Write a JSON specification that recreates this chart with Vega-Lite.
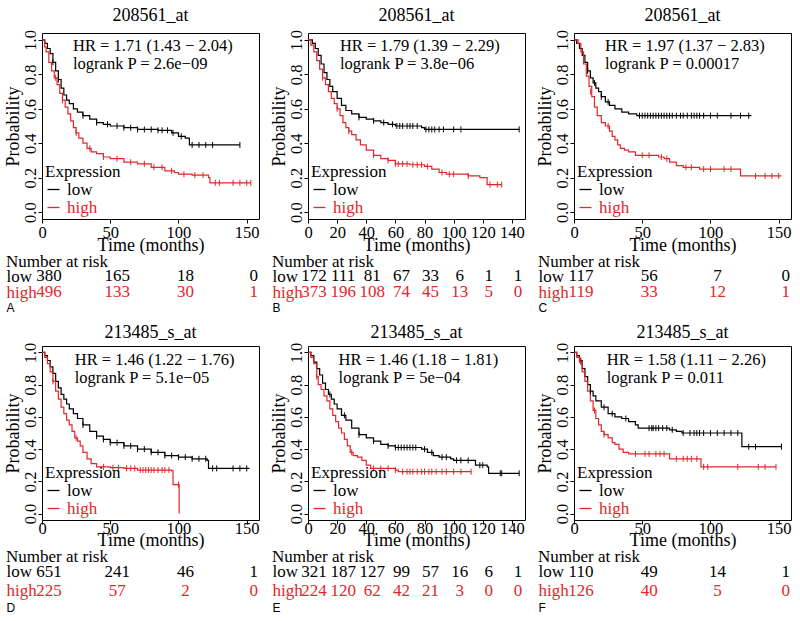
{
"$schema": "https://vega.github.io/schema/vega-lite/v6.json",
"padding": {"left": 3, "top": 6, "right": 2, "bottom": 2},
"background": "white",
"config": {
  "font": "Liberation Serif",
  "view": {"stroke": "black", "strokeWidth": 1},
  "concat": {"spacing": 10},
  "title": {"font": "Liberation Serif", "fontSize": 18, "fontWeight": "normal", "color": "black", "offset": 8},
  "axis": {"labelFont": "Liberation Serif", "labelFontSize": 16.5, "titleFont": "Liberation Serif", "titleFontSize": 18, "titleFontWeight": "normal", "labelColor": "black", "titleColor": "black", "grid": false, "domain": false, "tickColor": "black", "tickSize": 4, "labelPadding": 1, "titlePadding": 0, "labelOverlap": false, "labelFlush": false},
  "legend": {"orient": "bottom-left", "offset": 3, "symbolType": "stroke", "symbolSize": 144, "symbolStrokeWidth": 1.3, "titleFont": "Liberation Serif", "titleFontSize": 17, "titleFontWeight": "normal", "titleColor": "black", "labelFont": "Liberation Serif", "labelFontSize": 17, "labelColor": "black", "rowPadding": 0, "titlePadding": 0, "padding": 0, "labelOffset": 5}
},
"datasets": {
  "curves": [
    {"p":"A","g":"low","t":0,"s":1},{"p":"A","g":"low","t":2,"s":0.98},{"p":"A","g":"low","t":4,"s":0.95},{"p":"A","g":"low","t":6,"s":0.92},{"p":"A","g":"low","t":8,"s":0.87},{"p":"A","g":"low","t":10,"s":0.82},{"p":"A","g":"low","t":12,"s":0.77},{"p":"A","g":"low","t":14,"s":0.72},{"p":"A","g":"low","t":16,"s":0.68},{"p":"A","g":"low","t":18,"s":0.65},{"p":"A","g":"low","t":20,"s":0.63},{"p":"A","g":"low","t":23,"s":0.6},{"p":"A","g":"low","t":26,"s":0.58},{"p":"A","g":"low","t":30,"s":0.56},{"p":"A","g":"low","t":35,"s":0.54},{"p":"A","g":"low","t":40,"s":0.52},{"p":"A","g":"low","t":45,"s":0.51},{"p":"A","g":"low","t":50,"s":0.5},{"p":"A","g":"low","t":60,"s":0.49},{"p":"A","g":"low","t":70,"s":0.48},{"p":"A","g":"low","t":85,"s":0.475},{"p":"A","g":"low","t":95,"s":0.46},{"p":"A","g":"low","t":100,"s":0.44},{"p":"A","g":"low","t":105,"s":0.43},{"p":"A","g":"low","t":108,"s":0.39},{"p":"A","g":"low","t":145,"s":0.39},
    {"p":"A","g":"high","t":0,"s":1},{"p":"A","g":"high","t":2,"s":0.96},{"p":"A","g":"high","t":3,"s":0.93},{"p":"A","g":"high","t":5,"s":0.87},{"p":"A","g":"high","t":7,"s":0.82},{"p":"A","g":"high","t":9,"s":0.78},{"p":"A","g":"high","t":11,"s":0.74},{"p":"A","g":"high","t":13,"s":0.69},{"p":"A","g":"high","t":15,"s":0.65},{"p":"A","g":"high","t":17,"s":0.61},{"p":"A","g":"high","t":19,"s":0.57},{"p":"A","g":"high","t":21,"s":0.53},{"p":"A","g":"high","t":23,"s":0.49},{"p":"A","g":"high","t":25,"s":0.46},{"p":"A","g":"high","t":27,"s":0.43},{"p":"A","g":"high","t":30,"s":0.4},{"p":"A","g":"high","t":33,"s":0.37},{"p":"A","g":"high","t":36,"s":0.35},{"p":"A","g":"high","t":40,"s":0.34},{"p":"A","g":"high","t":45,"s":0.32},{"p":"A","g":"high","t":50,"s":0.31},{"p":"A","g":"high","t":60,"s":0.29},{"p":"A","g":"high","t":70,"s":0.28},{"p":"A","g":"high","t":80,"s":0.26},{"p":"A","g":"high","t":90,"s":0.24},{"p":"A","g":"high","t":97,"s":0.23},{"p":"A","g":"high","t":100,"s":0.22},{"p":"A","g":"high","t":110,"s":0.215},{"p":"A","g":"high","t":122,"s":0.2},{"p":"A","g":"high","t":123,"s":0.17},{"p":"A","g":"high","t":153,"s":0.17},

    {"p":"B","g":"low","t":0,"s":1},{"p":"B","g":"low","t":3,"s":0.98},{"p":"B","g":"low","t":5,"s":0.95},{"p":"B","g":"low","t":7,"s":0.91},{"p":"B","g":"low","t":9,"s":0.86},{"p":"B","g":"low","t":11,"s":0.81},{"p":"B","g":"low","t":13,"s":0.77},{"p":"B","g":"low","t":15,"s":0.73},{"p":"B","g":"low","t":17,"s":0.7},{"p":"B","g":"low","t":20,"s":0.66},{"p":"B","g":"low","t":23,"s":0.62},{"p":"B","g":"low","t":26,"s":0.59},{"p":"B","g":"low","t":30,"s":0.57},{"p":"B","g":"low","t":35,"s":0.55},{"p":"B","g":"low","t":40,"s":0.54},{"p":"B","g":"low","t":45,"s":0.53},{"p":"B","g":"low","t":50,"s":0.52},{"p":"B","g":"low","t":55,"s":0.51},{"p":"B","g":"low","t":60,"s":0.5},{"p":"B","g":"low","t":78,"s":0.49},{"p":"B","g":"low","t":80,"s":0.48},{"p":"B","g":"low","t":145,"s":0.48},
    {"p":"B","g":"high","t":0,"s":1},{"p":"B","g":"high","t":2,"s":0.97},{"p":"B","g":"high","t":4,"s":0.93},{"p":"B","g":"high","t":6,"s":0.88},{"p":"B","g":"high","t":8,"s":0.83},{"p":"B","g":"high","t":10,"s":0.78},{"p":"B","g":"high","t":12,"s":0.74},{"p":"B","g":"high","t":14,"s":0.7},{"p":"B","g":"high","t":16,"s":0.66},{"p":"B","g":"high","t":18,"s":0.63},{"p":"B","g":"high","t":20,"s":0.6},{"p":"B","g":"high","t":22,"s":0.56},{"p":"B","g":"high","t":24,"s":0.52},{"p":"B","g":"high","t":26,"s":0.49},{"p":"B","g":"high","t":28,"s":0.47},{"p":"B","g":"high","t":30,"s":0.45},{"p":"B","g":"high","t":33,"s":0.42},{"p":"B","g":"high","t":36,"s":0.39},{"p":"B","g":"high","t":40,"s":0.36},{"p":"B","g":"high","t":45,"s":0.33},{"p":"B","g":"high","t":50,"s":0.31},{"p":"B","g":"high","t":55,"s":0.3},{"p":"B","g":"high","t":60,"s":0.28},{"p":"B","g":"high","t":70,"s":0.275},{"p":"B","g":"high","t":80,"s":0.265},{"p":"B","g":"high","t":85,"s":0.25},{"p":"B","g":"high","t":90,"s":0.23},{"p":"B","g":"high","t":95,"s":0.22},{"p":"B","g":"high","t":110,"s":0.21},{"p":"B","g":"high","t":118,"s":0.2},{"p":"B","g":"high","t":123,"s":0.16},{"p":"B","g":"high","t":133,"s":0.16},

    {"p":"C","g":"low","t":0,"s":1},{"p":"C","g":"low","t":2,"s":0.98},{"p":"C","g":"low","t":4,"s":0.95},{"p":"C","g":"low","t":6,"s":0.91},{"p":"C","g":"low","t":8,"s":0.87},{"p":"C","g":"low","t":10,"s":0.82},{"p":"C","g":"low","t":12,"s":0.78},{"p":"C","g":"low","t":14,"s":0.75},{"p":"C","g":"low","t":16,"s":0.72},{"p":"C","g":"low","t":18,"s":0.7},{"p":"C","g":"low","t":20,"s":0.67},{"p":"C","g":"low","t":23,"s":0.64},{"p":"C","g":"low","t":26,"s":0.62},{"p":"C","g":"low","t":30,"s":0.6},{"p":"C","g":"low","t":35,"s":0.58},{"p":"C","g":"low","t":40,"s":0.57},{"p":"C","g":"low","t":46,"s":0.56},{"p":"C","g":"low","t":130,"s":0.56},
    {"p":"C","g":"high","t":0,"s":1},{"p":"C","g":"high","t":3,"s":0.98},{"p":"C","g":"high","t":5,"s":0.93},{"p":"C","g":"high","t":7,"s":0.86},{"p":"C","g":"high","t":9,"s":0.79},{"p":"C","g":"high","t":11,"s":0.73},{"p":"C","g":"high","t":13,"s":0.67},{"p":"C","g":"high","t":15,"s":0.61},{"p":"C","g":"high","t":17,"s":0.56},{"p":"C","g":"high","t":20,"s":0.52},{"p":"C","g":"high","t":23,"s":0.5},{"p":"C","g":"high","t":26,"s":0.47},{"p":"C","g":"high","t":28,"s":0.44},{"p":"C","g":"high","t":30,"s":0.42},{"p":"C","g":"high","t":32,"s":0.39},{"p":"C","g":"high","t":34,"s":0.37},{"p":"C","g":"high","t":37,"s":0.36},{"p":"C","g":"high","t":40,"s":0.35},{"p":"C","g":"high","t":45,"s":0.33},{"p":"C","g":"high","t":58,"s":0.33},{"p":"C","g":"high","t":62,"s":0.32},{"p":"C","g":"high","t":66,"s":0.31},{"p":"C","g":"high","t":70,"s":0.29},{"p":"C","g":"high","t":75,"s":0.27},{"p":"C","g":"high","t":80,"s":0.26},{"p":"C","g":"high","t":92,"s":0.25},{"p":"C","g":"high","t":120,"s":0.25},{"p":"C","g":"high","t":122,"s":0.21},{"p":"C","g":"high","t":152,"s":0.21},

    {"p":"D","g":"low","t":0,"s":1},{"p":"D","g":"low","t":2,"s":0.98},{"p":"D","g":"low","t":4,"s":0.95},{"p":"D","g":"low","t":6,"s":0.91},{"p":"D","g":"low","t":8,"s":0.87},{"p":"D","g":"low","t":10,"s":0.82},{"p":"D","g":"low","t":12,"s":0.78},{"p":"D","g":"low","t":14,"s":0.74},{"p":"D","g":"low","t":16,"s":0.71},{"p":"D","g":"low","t":18,"s":0.68},{"p":"D","g":"low","t":20,"s":0.65},{"p":"D","g":"low","t":23,"s":0.62},{"p":"D","g":"low","t":26,"s":0.59},{"p":"D","g":"low","t":30,"s":0.55},{"p":"D","g":"low","t":35,"s":0.51},{"p":"D","g":"low","t":40,"s":0.48},{"p":"D","g":"low","t":45,"s":0.46},{"p":"D","g":"low","t":50,"s":0.44},{"p":"D","g":"low","t":60,"s":0.42},{"p":"D","g":"low","t":70,"s":0.4},{"p":"D","g":"low","t":80,"s":0.38},{"p":"D","g":"low","t":90,"s":0.36},{"p":"D","g":"low","t":100,"s":0.35},{"p":"D","g":"low","t":110,"s":0.34},{"p":"D","g":"low","t":121,"s":0.33},{"p":"D","g":"low","t":122,"s":0.28},{"p":"D","g":"low","t":152,"s":0.28},
    {"p":"D","g":"high","t":0,"s":1},{"p":"D","g":"high","t":2,"s":0.97},{"p":"D","g":"high","t":4,"s":0.93},{"p":"D","g":"high","t":6,"s":0.88},{"p":"D","g":"high","t":8,"s":0.82},{"p":"D","g":"high","t":10,"s":0.76},{"p":"D","g":"high","t":12,"s":0.71},{"p":"D","g":"high","t":14,"s":0.66},{"p":"D","g":"high","t":16,"s":0.62},{"p":"D","g":"high","t":18,"s":0.58},{"p":"D","g":"high","t":20,"s":0.55},{"p":"D","g":"high","t":22,"s":0.51},{"p":"D","g":"high","t":24,"s":0.47},{"p":"D","g":"high","t":26,"s":0.45},{"p":"D","g":"high","t":28,"s":0.42},{"p":"D","g":"high","t":30,"s":0.38},{"p":"D","g":"high","t":33,"s":0.34},{"p":"D","g":"high","t":36,"s":0.31},{"p":"D","g":"high","t":40,"s":0.29},{"p":"D","g":"high","t":50,"s":0.285},{"p":"D","g":"high","t":60,"s":0.28},{"p":"D","g":"high","t":70,"s":0.27},{"p":"D","g":"high","t":95,"s":0.265},{"p":"D","g":"high","t":96,"s":0.18},{"p":"D","g":"high","t":100,"s":0.18},{"p":"D","g":"high","t":100.5,"s":0},

    {"p":"E","g":"low","t":0,"s":1},{"p":"E","g":"low","t":2,"s":0.98},{"p":"E","g":"low","t":4,"s":0.94},{"p":"E","g":"low","t":6,"s":0.9},{"p":"E","g":"low","t":8,"s":0.86},{"p":"E","g":"low","t":10,"s":0.81},{"p":"E","g":"low","t":12,"s":0.77},{"p":"E","g":"low","t":14,"s":0.74},{"p":"E","g":"low","t":16,"s":0.71},{"p":"E","g":"low","t":18,"s":0.68},{"p":"E","g":"low","t":20,"s":0.65},{"p":"E","g":"low","t":23,"s":0.61},{"p":"E","g":"low","t":26,"s":0.58},{"p":"E","g":"low","t":30,"s":0.53},{"p":"E","g":"low","t":35,"s":0.49},{"p":"E","g":"low","t":40,"s":0.47},{"p":"E","g":"low","t":45,"s":0.45},{"p":"E","g":"low","t":50,"s":0.43},{"p":"E","g":"low","t":55,"s":0.42},{"p":"E","g":"low","t":60,"s":0.41},{"p":"E","g":"low","t":78,"s":0.4},{"p":"E","g":"low","t":82,"s":0.38},{"p":"E","g":"low","t":86,"s":0.36},{"p":"E","g":"low","t":90,"s":0.35},{"p":"E","g":"low","t":98,"s":0.34},{"p":"E","g":"low","t":100,"s":0.33},{"p":"E","g":"low","t":112,"s":0.33},{"p":"E","g":"low","t":115,"s":0.3},{"p":"E","g":"low","t":123,"s":0.29},{"p":"E","g":"low","t":124,"s":0.25},{"p":"E","g":"low","t":145,"s":0.25},
    {"p":"E","g":"high","t":0,"s":1},{"p":"E","g":"high","t":2,"s":0.97},{"p":"E","g":"high","t":4,"s":0.93},{"p":"E","g":"high","t":6,"s":0.85},{"p":"E","g":"high","t":7,"s":0.8},{"p":"E","g":"high","t":9,"s":0.77},{"p":"E","g":"high","t":11,"s":0.73},{"p":"E","g":"high","t":13,"s":0.7},{"p":"E","g":"high","t":15,"s":0.65},{"p":"E","g":"high","t":17,"s":0.61},{"p":"E","g":"high","t":19,"s":0.57},{"p":"E","g":"high","t":21,"s":0.53},{"p":"E","g":"high","t":23,"s":0.5},{"p":"E","g":"high","t":25,"s":0.46},{"p":"E","g":"high","t":27,"s":0.42},{"p":"E","g":"high","t":29,"s":0.38},{"p":"E","g":"high","t":31,"s":0.36},{"p":"E","g":"high","t":34,"s":0.35},{"p":"E","g":"high","t":37,"s":0.33},{"p":"E","g":"high","t":40,"s":0.3},{"p":"E","g":"high","t":43,"s":0.28},{"p":"E","g":"high","t":60,"s":0.27},{"p":"E","g":"high","t":62,"s":0.26},{"p":"E","g":"high","t":112,"s":0.26},

    {"p":"F","g":"low","t":0,"s":1},{"p":"F","g":"low","t":2,"s":0.98},{"p":"F","g":"low","t":4,"s":0.95},{"p":"F","g":"low","t":6,"s":0.9},{"p":"F","g":"low","t":8,"s":0.85},{"p":"F","g":"low","t":10,"s":0.8},{"p":"F","g":"low","t":12,"s":0.76},{"p":"F","g":"low","t":14,"s":0.73},{"p":"F","g":"low","t":16,"s":0.7},{"p":"F","g":"low","t":20,"s":0.66},{"p":"F","g":"low","t":25,"s":0.62},{"p":"F","g":"low","t":30,"s":0.6},{"p":"F","g":"low","t":35,"s":0.59},{"p":"F","g":"low","t":40,"s":0.57},{"p":"F","g":"low","t":45,"s":0.55},{"p":"F","g":"low","t":47,"s":0.53},{"p":"F","g":"low","t":70,"s":0.52},{"p":"F","g":"low","t":75,"s":0.51},{"p":"F","g":"low","t":79,"s":0.5},{"p":"F","g":"low","t":122,"s":0.5},{"p":"F","g":"low","t":123,"s":0.415},{"p":"F","g":"low","t":152,"s":0.415},
    {"p":"F","g":"high","t":0,"s":1},{"p":"F","g":"high","t":2,"s":0.97},{"p":"F","g":"high","t":4,"s":0.94},{"p":"F","g":"high","t":6,"s":0.88},{"p":"F","g":"high","t":8,"s":0.82},{"p":"F","g":"high","t":10,"s":0.76},{"p":"F","g":"high","t":12,"s":0.7},{"p":"F","g":"high","t":14,"s":0.64},{"p":"F","g":"high","t":16,"s":0.59},{"p":"F","g":"high","t":18,"s":0.55},{"p":"F","g":"high","t":20,"s":0.51},{"p":"F","g":"high","t":22,"s":0.49},{"p":"F","g":"high","t":25,"s":0.47},{"p":"F","g":"high","t":28,"s":0.44},{"p":"F","g":"high","t":30,"s":0.43},{"p":"F","g":"high","t":33,"s":0.4},{"p":"F","g":"high","t":36,"s":0.38},{"p":"F","g":"high","t":40,"s":0.37},{"p":"F","g":"high","t":68,"s":0.37},{"p":"F","g":"high","t":70,"s":0.34},{"p":"F","g":"high","t":92,"s":0.34},{"p":"F","g":"high","t":93,"s":0.29},{"p":"F","g":"high","t":148,"s":0.29}
  ],
  "censor": [
    {"p":"A","g":"low","t":8,"s":0.87},{"p":"A","g":"low","t":12,"s":0.77},{"p":"A","g":"low","t":30,"s":0.56},{"p":"A","g":"low","t":40,"s":0.52},{"p":"A","g":"low","t":48,"s":0.51},{"p":"A","g":"low","t":55,"s":0.5},{"p":"A","g":"low","t":60,"s":0.49},{"p":"A","g":"low","t":65,"s":0.49},{"p":"A","g":"low","t":70,"s":0.48},{"p":"A","g":"low","t":75,"s":0.48},{"p":"A","g":"low","t":80,"s":0.48},{"p":"A","g":"low","t":85,"s":0.475},{"p":"A","g":"low","t":88,"s":0.475},{"p":"A","g":"low","t":92,"s":0.475},{"p":"A","g":"low","t":96,"s":0.46},{"p":"A","g":"low","t":102,"s":0.44},{"p":"A","g":"low","t":110,"s":0.39},{"p":"A","g":"low","t":115,"s":0.39},{"p":"A","g":"low","t":120,"s":0.39},{"p":"A","g":"low","t":125,"s":0.39},{"p":"A","g":"low","t":145,"s":0.39},
    {"p":"A","g":"high","t":10,"s":0.78},{"p":"A","g":"high","t":15,"s":0.65},{"p":"A","g":"high","t":25,"s":0.46},{"p":"A","g":"high","t":35,"s":0.37},{"p":"A","g":"high","t":45,"s":0.32},{"p":"A","g":"high","t":55,"s":0.31},{"p":"A","g":"high","t":65,"s":0.29},{"p":"A","g":"high","t":75,"s":0.28},{"p":"A","g":"high","t":82,"s":0.26},{"p":"A","g":"high","t":88,"s":0.26},{"p":"A","g":"high","t":95,"s":0.24},{"p":"A","g":"high","t":104,"s":0.22},{"p":"A","g":"high","t":112,"s":0.215},{"p":"A","g":"high","t":118,"s":0.215},{"p":"A","g":"high","t":127,"s":0.17},{"p":"A","g":"high","t":130,"s":0.17},{"p":"A","g":"high","t":140,"s":0.17},{"p":"A","g":"high","t":145,"s":0.17},{"p":"A","g":"high","t":150,"s":0.17},{"p":"A","g":"high","t":153,"s":0.17},

    {"p":"B","g":"low","t":35,"s":0.55},{"p":"B","g":"low","t":45,"s":0.53},{"p":"B","g":"low","t":52,"s":0.52},{"p":"B","g":"low","t":58,"s":0.51},{"p":"B","g":"low","t":61,"s":0.5},{"p":"B","g":"low","t":63,"s":0.5},{"p":"B","g":"low","t":65,"s":0.5},{"p":"B","g":"low","t":68,"s":0.5},{"p":"B","g":"low","t":70,"s":0.5},{"p":"B","g":"low","t":72,"s":0.5},{"p":"B","g":"low","t":75,"s":0.5},{"p":"B","g":"low","t":81,"s":0.48},{"p":"B","g":"low","t":83,"s":0.48},{"p":"B","g":"low","t":85,"s":0.48},{"p":"B","g":"low","t":87,"s":0.48},{"p":"B","g":"low","t":90,"s":0.48},{"p":"B","g":"low","t":93,"s":0.48},{"p":"B","g":"low","t":100,"s":0.48},{"p":"B","g":"low","t":105,"s":0.48},{"p":"B","g":"low","t":145,"s":0.48},
    {"p":"B","g":"high","t":10,"s":0.78},{"p":"B","g":"high","t":20,"s":0.6},{"p":"B","g":"high","t":28,"s":0.47},{"p":"B","g":"high","t":45,"s":0.33},{"p":"B","g":"high","t":55,"s":0.3},{"p":"B","g":"high","t":60,"s":0.28},{"p":"B","g":"high","t":62,"s":0.28},{"p":"B","g":"high","t":65,"s":0.28},{"p":"B","g":"high","t":68,"s":0.28},{"p":"B","g":"high","t":72,"s":0.275},{"p":"B","g":"high","t":75,"s":0.275},{"p":"B","g":"high","t":78,"s":0.275},{"p":"B","g":"high","t":82,"s":0.265},{"p":"B","g":"high","t":92,"s":0.23},{"p":"B","g":"high","t":97,"s":0.22},{"p":"B","g":"high","t":100,"s":0.22},{"p":"B","g":"high","t":110,"s":0.21},{"p":"B","g":"high","t":125,"s":0.16},{"p":"B","g":"high","t":130,"s":0.16},{"p":"B","g":"high","t":133,"s":0.16},

    {"p":"C","g":"low","t":10,"s":0.82},{"p":"C","g":"low","t":15,"s":0.75},{"p":"C","g":"low","t":20,"s":0.67},{"p":"C","g":"low","t":25,"s":0.64},{"p":"C","g":"low","t":48,"s":0.56},{"p":"C","g":"low","t":50,"s":0.56},{"p":"C","g":"low","t":52,"s":0.56},{"p":"C","g":"low","t":54,"s":0.56},{"p":"C","g":"low","t":56,"s":0.56},{"p":"C","g":"low","t":58,"s":0.56},{"p":"C","g":"low","t":60,"s":0.56},{"p":"C","g":"low","t":62,"s":0.56},{"p":"C","g":"low","t":64,"s":0.56},{"p":"C","g":"low","t":66,"s":0.56},{"p":"C","g":"low","t":68,"s":0.56},{"p":"C","g":"low","t":70,"s":0.56},{"p":"C","g":"low","t":72,"s":0.56},{"p":"C","g":"low","t":75,"s":0.56},{"p":"C","g":"low","t":78,"s":0.56},{"p":"C","g":"low","t":80,"s":0.56},{"p":"C","g":"low","t":83,"s":0.56},{"p":"C","g":"low","t":86,"s":0.56},{"p":"C","g":"low","t":88,"s":0.56},{"p":"C","g":"low","t":90,"s":0.56},{"p":"C","g":"low","t":92,"s":0.56},{"p":"C","g":"low","t":95,"s":0.56},{"p":"C","g":"low","t":100,"s":0.56},{"p":"C","g":"low","t":105,"s":0.56},{"p":"C","g":"low","t":115,"s":0.56},{"p":"C","g":"low","t":122,"s":0.56},{"p":"C","g":"low","t":128,"s":0.56},
    {"p":"C","g":"high","t":12,"s":0.7},{"p":"C","g":"high","t":25,"s":0.5},{"p":"C","g":"high","t":50,"s":0.33},{"p":"C","g":"high","t":55,"s":0.33},{"p":"C","g":"high","t":64,"s":0.32},{"p":"C","g":"high","t":68,"s":0.31},{"p":"C","g":"high","t":82,"s":0.26},{"p":"C","g":"high","t":86,"s":0.26},{"p":"C","g":"high","t":95,"s":0.25},{"p":"C","g":"high","t":100,"s":0.25},{"p":"C","g":"high","t":110,"s":0.25},{"p":"C","g":"high","t":115,"s":0.25},{"p":"C","g":"high","t":133,"s":0.21},{"p":"C","g":"high","t":140,"s":0.21},{"p":"C","g":"high","t":145,"s":0.21},{"p":"C","g":"high","t":150,"s":0.21},

    {"p":"D","g":"low","t":30,"s":0.55},{"p":"D","g":"low","t":40,"s":0.48},{"p":"D","g":"low","t":45,"s":0.46},{"p":"D","g":"low","t":50,"s":0.44},{"p":"D","g":"low","t":55,"s":0.44},{"p":"D","g":"low","t":60,"s":0.42},{"p":"D","g":"low","t":65,"s":0.42},{"p":"D","g":"low","t":70,"s":0.4},{"p":"D","g":"low","t":75,"s":0.4},{"p":"D","g":"low","t":80,"s":0.38},{"p":"D","g":"low","t":85,"s":0.38},{"p":"D","g":"low","t":90,"s":0.36},{"p":"D","g":"low","t":95,"s":0.36},{"p":"D","g":"low","t":100,"s":0.35},{"p":"D","g":"low","t":105,"s":0.35},{"p":"D","g":"low","t":110,"s":0.34},{"p":"D","g":"low","t":115,"s":0.34},{"p":"D","g":"low","t":120,"s":0.34},{"p":"D","g":"low","t":125,"s":0.28},{"p":"D","g":"low","t":128,"s":0.28},{"p":"D","g":"low","t":140,"s":0.28},{"p":"D","g":"low","t":145,"s":0.28},{"p":"D","g":"low","t":150,"s":0.28},
    {"p":"D","g":"high","t":8,"s":0.82},{"p":"D","g":"high","t":25,"s":0.47},{"p":"D","g":"high","t":45,"s":0.29},{"p":"D","g":"high","t":52,"s":0.285},{"p":"D","g":"high","t":56,"s":0.285},{"p":"D","g":"high","t":62,"s":0.28},{"p":"D","g":"high","t":65,"s":0.28},{"p":"D","g":"high","t":68,"s":0.28},{"p":"D","g":"high","t":72,"s":0.27},{"p":"D","g":"high","t":74,"s":0.27},{"p":"D","g":"high","t":76,"s":0.27},{"p":"D","g":"high","t":78,"s":0.27},{"p":"D","g":"high","t":80,"s":0.27},{"p":"D","g":"high","t":82,"s":0.27},{"p":"D","g":"high","t":85,"s":0.27},{"p":"D","g":"high","t":88,"s":0.27},{"p":"D","g":"high","t":90,"s":0.27},{"p":"D","g":"high","t":93,"s":0.27},{"p":"D","g":"high","t":100,"s":0.18},

    {"p":"E","g":"low","t":15,"s":0.74},{"p":"E","g":"low","t":25,"s":0.61},{"p":"E","g":"low","t":35,"s":0.49},{"p":"E","g":"low","t":45,"s":0.45},{"p":"E","g":"low","t":55,"s":0.42},{"p":"E","g":"low","t":60,"s":0.41},{"p":"E","g":"low","t":62,"s":0.41},{"p":"E","g":"low","t":64,"s":0.41},{"p":"E","g":"low","t":66,"s":0.41},{"p":"E","g":"low","t":68,"s":0.41},{"p":"E","g":"low","t":70,"s":0.41},{"p":"E","g":"low","t":72,"s":0.41},{"p":"E","g":"low","t":74,"s":0.41},{"p":"E","g":"low","t":80,"s":0.4},{"p":"E","g":"low","t":85,"s":0.38},{"p":"E","g":"low","t":92,"s":0.35},{"p":"E","g":"low","t":95,"s":0.35},{"p":"E","g":"low","t":102,"s":0.33},{"p":"E","g":"low","t":105,"s":0.33},{"p":"E","g":"low","t":110,"s":0.33},{"p":"E","g":"low","t":118,"s":0.3},{"p":"E","g":"low","t":120,"s":0.3},{"p":"E","g":"low","t":132,"s":0.25},{"p":"E","g":"low","t":133,"s":0.25},{"p":"E","g":"low","t":145,"s":0.25},
    {"p":"E","g":"high","t":6,"s":0.85},{"p":"E","g":"high","t":30,"s":0.38},{"p":"E","g":"high","t":45,"s":0.28},{"p":"E","g":"high","t":50,"s":0.28},{"p":"E","g":"high","t":55,"s":0.28},{"p":"E","g":"high","t":60,"s":0.27},{"p":"E","g":"high","t":65,"s":0.26},{"p":"E","g":"high","t":68,"s":0.26},{"p":"E","g":"high","t":70,"s":0.26},{"p":"E","g":"high","t":72,"s":0.26},{"p":"E","g":"high","t":75,"s":0.26},{"p":"E","g":"high","t":78,"s":0.26},{"p":"E","g":"high","t":80,"s":0.26},{"p":"E","g":"high","t":83,"s":0.26},{"p":"E","g":"high","t":85,"s":0.26},{"p":"E","g":"high","t":88,"s":0.26},{"p":"E","g":"high","t":92,"s":0.26},{"p":"E","g":"high","t":95,"s":0.26},{"p":"E","g":"high","t":100,"s":0.26},{"p":"E","g":"high","t":105,"s":0.26},{"p":"E","g":"high","t":112,"s":0.26},

    {"p":"F","g":"low","t":5,"s":0.95},{"p":"F","g":"low","t":12,"s":0.76},{"p":"F","g":"low","t":22,"s":0.66},{"p":"F","g":"low","t":28,"s":0.62},{"p":"F","g":"low","t":38,"s":0.59},{"p":"F","g":"low","t":55,"s":0.53},{"p":"F","g":"low","t":57,"s":0.53},{"p":"F","g":"low","t":58,"s":0.53},{"p":"F","g":"low","t":60,"s":0.53},{"p":"F","g":"low","t":62,"s":0.53},{"p":"F","g":"low","t":65,"s":0.53},{"p":"F","g":"low","t":68,"s":0.53},{"p":"F","g":"low","t":72,"s":0.52},{"p":"F","g":"low","t":80,"s":0.5},{"p":"F","g":"low","t":85,"s":0.5},{"p":"F","g":"low","t":88,"s":0.5},{"p":"F","g":"low","t":90,"s":0.5},{"p":"F","g":"low","t":92,"s":0.5},{"p":"F","g":"low","t":95,"s":0.5},{"p":"F","g":"low","t":100,"s":0.5},{"p":"F","g":"low","t":105,"s":0.5},{"p":"F","g":"low","t":110,"s":0.5},{"p":"F","g":"low","t":115,"s":0.5},{"p":"F","g":"low","t":120,"s":0.5},{"p":"F","g":"low","t":128,"s":0.415},{"p":"F","g":"low","t":133,"s":0.415},{"p":"F","g":"low","t":152,"s":0.415},
    {"p":"F","g":"high","t":5,"s":0.94},{"p":"F","g":"high","t":15,"s":0.64},{"p":"F","g":"high","t":22,"s":0.49},{"p":"F","g":"high","t":45,"s":0.37},{"p":"F","g":"high","t":52,"s":0.37},{"p":"F","g":"high","t":55,"s":0.37},{"p":"F","g":"high","t":60,"s":0.37},{"p":"F","g":"high","t":63,"s":0.37},{"p":"F","g":"high","t":66,"s":0.37},{"p":"F","g":"high","t":75,"s":0.34},{"p":"F","g":"high","t":80,"s":0.34},{"p":"F","g":"high","t":83,"s":0.34},{"p":"F","g":"high","t":86,"s":0.34},{"p":"F","g":"high","t":90,"s":0.34},{"p":"F","g":"high","t":95,"s":0.29},{"p":"F","g":"high","t":98,"s":0.29},{"p":"F","g":"high","t":120,"s":0.29},{"p":"F","g":"high","t":135,"s":0.29},{"p":"F","g":"high","t":140,"s":0.29},{"p":"F","g":"high","t":148,"s":0.29}
  ],
  "risk": [
    {"p":"A","g":"low","t":0,"n":380},{"p":"A","g":"low","t":50,"n":165},{"p":"A","g":"low","t":100,"n":18},{"p":"A","g":"low","t":150,"n":0},
    {"p":"A","g":"high","t":0,"n":496},{"p":"A","g":"high","t":50,"n":133},{"p":"A","g":"high","t":100,"n":30},{"p":"A","g":"high","t":150,"n":1},
    {"p":"B","g":"low","t":0,"n":172},{"p":"B","g":"low","t":20,"n":111},{"p":"B","g":"low","t":40,"n":81},{"p":"B","g":"low","t":60,"n":67},{"p":"B","g":"low","t":80,"n":33},{"p":"B","g":"low","t":100,"n":6},{"p":"B","g":"low","t":120,"n":1},{"p":"B","g":"low","t":140,"n":1},
    {"p":"B","g":"high","t":0,"n":373},{"p":"B","g":"high","t":20,"n":196},{"p":"B","g":"high","t":40,"n":108},{"p":"B","g":"high","t":60,"n":74},{"p":"B","g":"high","t":80,"n":45},{"p":"B","g":"high","t":100,"n":13},{"p":"B","g":"high","t":120,"n":5},{"p":"B","g":"high","t":140,"n":0},
    {"p":"C","g":"low","t":0,"n":117},{"p":"C","g":"low","t":50,"n":56},{"p":"C","g":"low","t":100,"n":7},{"p":"C","g":"low","t":150,"n":0},
    {"p":"C","g":"high","t":0,"n":119},{"p":"C","g":"high","t":50,"n":33},{"p":"C","g":"high","t":100,"n":12},{"p":"C","g":"high","t":150,"n":1},
    {"p":"D","g":"low","t":0,"n":651},{"p":"D","g":"low","t":50,"n":241},{"p":"D","g":"low","t":100,"n":46},{"p":"D","g":"low","t":150,"n":1},
    {"p":"D","g":"high","t":0,"n":225},{"p":"D","g":"high","t":50,"n":57},{"p":"D","g":"high","t":100,"n":2},{"p":"D","g":"high","t":150,"n":0},
    {"p":"E","g":"low","t":0,"n":321},{"p":"E","g":"low","t":20,"n":187},{"p":"E","g":"low","t":40,"n":127},{"p":"E","g":"low","t":60,"n":99},{"p":"E","g":"low","t":80,"n":57},{"p":"E","g":"low","t":100,"n":16},{"p":"E","g":"low","t":120,"n":6},{"p":"E","g":"low","t":140,"n":1},
    {"p":"E","g":"high","t":0,"n":224},{"p":"E","g":"high","t":20,"n":120},{"p":"E","g":"high","t":40,"n":62},{"p":"E","g":"high","t":60,"n":42},{"p":"E","g":"high","t":80,"n":21},{"p":"E","g":"high","t":100,"n":3},{"p":"E","g":"high","t":120,"n":0},{"p":"E","g":"high","t":140,"n":0},
    {"p":"F","g":"low","t":0,"n":110},{"p":"F","g":"low","t":50,"n":49},{"p":"F","g":"low","t":100,"n":14},{"p":"F","g":"low","t":150,"n":1},
    {"p":"F","g":"high","t":0,"n":126},{"p":"F","g":"high","t":50,"n":40},{"p":"F","g":"high","t":100,"n":5},{"p":"F","g":"high","t":150,"n":0}
  ],
  "ann": [
    {"p":"A","lines":["HR = 1.71 (1.43 − 2.04)","logrank P = 2.6e−09"]},
    {"p":"B","lines":["HR = 1.79 (1.39 − 2.29)","logrank P = 3.8e−06"]},
    {"p":"C","lines":["HR = 1.97 (1.37 − 2.83)","logrank P = 0.00017"]},
    {"p":"D","lines":["HR = 1.46 (1.22 − 1.76)","logrank P = 5.1e−05"]},
    {"p":"E","lines":["HR = 1.46 (1.18 − 1.81)","logrank P = 5e−04"]},
    {"p":"F","lines":["HR = 1.58 (1.11 − 2.26)","logrank P = 0.011"]}
  ]
},
"spacing": 10,
"resolve": {"scale": {"color": "independent", "x": "independent", "y": "independent"}, "legend": {"color": "independent"}},
"vconcat": [
 {"hconcat": [
  {"spacing": -3, "resolve": {"scale": {"color": "independent", "x": "independent", "y": "independent"}, "legend": {"color": "independent"}},
   "vconcat": [
    {"title": {"text": "208561_at", "offset": 5}, "width": 217, "height": 186,
     "layer": [
      {"data": {"name": "curves"}, "transform": [{"filter": "datum.p == 'A'"}], "mark": {"type": "line", "interpolate": "step-after", "strokeWidth": 1.2},
       "encoding": {"x": {"field": "t", "type": "quantitative", "scale": {"domain": [0, 159], "nice": false, "zero": false}, "axis": {"values": [0, 50, 100, 150], "tickCount": 20, "title": "Time (months)", "labelOverlap": false, "labelPadding": 1, "titlePadding": -4}},
        "y": {"field": "s", "type": "quantitative", "scale": {"domain": [-0.04, 1.04], "nice": false, "zero": false}, "axis": {"values": [0, 0.2, 0.4, 0.6, 0.8, 1], "tickCount": 20, "format": ".1f", "title": "Probability", "labelOverlap": false, "labelAngle": 270, "labelAlign": "center", "labelBaseline": "bottom", "labelPadding": 0, "titlePadding": 0}},
        "color": {"field": "g", "type": "nominal", "scale": {"domain": ["low", "high"], "range": ["black", "#e3262a"]}, "legend": {"title": "Expression", "encode": {"labels": {"update": {"fill": {"signal": "datum.label == 'high' ? '#e3262a' : 'black'"}}}}}}}},
      {"data": {"name": "censor"}, "transform": [{"filter": "datum.p == 'A'"}], "mark": {"type": "point", "shape": "M0,-1V1", "filled": false, "size": 36, "strokeWidth": 1, "opacity": 1},
       "encoding": {"x": {"field": "t", "type": "quantitative"}, "y": {"field": "s", "type": "quantitative"}, "color": {"condition": {"test": "datum.g == 'high'", "value": "#e3262a"}, "value": "black"}}},
      {"data": {"name": "ann"}, "transform": [{"filter": "datum.p == 'A'"}], "mark": {"type": "text", "align": "left", "baseline": "top", "fontSize": 16.5, "lineHeight": 18, "font": "Liberation Serif", "color": "black"},
       "encoding": {"x": {"datum": 22.7}, "y": {"datum": 1.012}, "text": {"field": "lines"}}}
     ]},
    {"width": 217, "height": 32, "view": {"stroke": null},
     "title": {"text": "Number at risk", "anchor": "start", "frame": "group", "dx": -36, "offset": -3.5, "fontSize": 17},
     "data": {"name": "risk"}, "transform": [{"filter": "datum.p == 'A'"}],
     "mark": {"type": "text", "fontSize": 17, "font": "Liberation Serif", "dx": 7},
     "encoding": {"x": {"field": "t", "type": "quantitative", "scale": {"domain": [0, 159], "nice": false, "zero": false}, "axis": {"title": "A", "labels": false, "ticks": false, "tickSize": 0, "titleFont": "Liberation Sans", "titleFontSize": 12, "titleAnchor": "start", "titleAlign": "left", "titleX": -36, "titlePadding": 2}},
      "y": {"field": "g", "type": "nominal", "scale": {"domain": ["low", "high"], "paddingInner": 0, "paddingOuter": 0}, "axis": {"title": null, "ticks": false, "tickSize": 0, "labelAlign": "left", "labelPadding": 36, "labelFontSize": 17, "labelColor": {"condition": {"test": "datum.value == 'high'", "value": "#e3262a"}, "value": "black"}}},
      "text": {"field": "n", "type": "quantitative"},
      "color": {"condition": {"test": "datum.g == 'high'", "value": "#e3262a"}, "value": "black"}}}
   ]},
  {"spacing": -3, "resolve": {"scale": {"color": "independent", "x": "independent", "y": "independent"}, "legend": {"color": "independent"}},
   "vconcat": [
    {"title": {"text": "208561_at", "offset": 5}, "width": 217, "height": 186,
     "layer": [
      {"data": {"name": "curves"}, "transform": [{"filter": "datum.p == 'B'"}], "mark": {"type": "line", "interpolate": "step-after", "strokeWidth": 1.2},
       "encoding": {"x": {"field": "t", "type": "quantitative", "scale": {"domain": [0, 149], "nice": false, "zero": false}, "axis": {"values": [0, 20, 40, 60, 80, 100, 120, 140], "tickCount": 20, "title": "Time (months)", "labelOverlap": false, "labelPadding": 1, "titlePadding": -4}},
        "y": {"field": "s", "type": "quantitative", "scale": {"domain": [-0.04, 1.04], "nice": false, "zero": false}, "axis": {"values": [0, 0.2, 0.4, 0.6, 0.8, 1], "tickCount": 20, "format": ".1f", "title": "Probability", "labelOverlap": false, "labelAngle": 270, "labelAlign": "center", "labelBaseline": "bottom", "labelPadding": 0, "titlePadding": 0}},
        "color": {"field": "g", "type": "nominal", "scale": {"domain": ["low", "high"], "range": ["black", "#e3262a"]}, "legend": {"title": "Expression", "encode": {"labels": {"update": {"fill": {"signal": "datum.label == 'high' ? '#e3262a' : 'black'"}}}}}}}},
      {"data": {"name": "censor"}, "transform": [{"filter": "datum.p == 'B'"}], "mark": {"type": "point", "shape": "M0,-1V1", "filled": false, "size": 36, "strokeWidth": 1, "opacity": 1},
       "encoding": {"x": {"field": "t", "type": "quantitative"}, "y": {"field": "s", "type": "quantitative"}, "color": {"condition": {"test": "datum.g == 'high'", "value": "#e3262a"}, "value": "black"}}},
      {"data": {"name": "ann"}, "transform": [{"filter": "datum.p == 'B'"}], "mark": {"type": "text", "align": "left", "baseline": "top", "fontSize": 16.5, "lineHeight": 18, "font": "Liberation Serif", "color": "black"},
       "encoding": {"x": {"datum": 21.9}, "y": {"datum": 1.012}, "text": {"field": "lines"}}}
     ]},
    {"width": 217, "height": 32, "view": {"stroke": null},
     "title": {"text": "Number at risk", "anchor": "start", "frame": "group", "dx": -36, "offset": -3.5, "fontSize": 17},
     "data": {"name": "risk"}, "transform": [{"filter": "datum.p == 'B'"}],
     "mark": {"type": "text", "fontSize": 17, "font": "Liberation Serif", "dx": 6},
     "encoding": {"x": {"field": "t", "type": "quantitative", "scale": {"domain": [0, 149], "nice": false, "zero": false}, "axis": {"title": "B", "labels": false, "ticks": false, "tickSize": 0, "titleFont": "Liberation Sans", "titleFontSize": 12, "titleAnchor": "start", "titleAlign": "left", "titleX": -36, "titlePadding": 2}},
      "y": {"field": "g", "type": "nominal", "scale": {"domain": ["low", "high"], "paddingInner": 0, "paddingOuter": 0}, "axis": {"title": null, "ticks": false, "tickSize": 0, "labelAlign": "left", "labelPadding": 36, "labelFontSize": 17, "labelColor": {"condition": {"test": "datum.value == 'high'", "value": "#e3262a"}, "value": "black"}}},
      "text": {"field": "n", "type": "quantitative"},
      "color": {"condition": {"test": "datum.g == 'high'", "value": "#e3262a"}, "value": "black"}}}
   ]},
  {"spacing": -3, "resolve": {"scale": {"color": "independent", "x": "independent", "y": "independent"}, "legend": {"color": "independent"}},
   "vconcat": [
    {"title": {"text": "208561_at", "offset": 5}, "width": 217, "height": 186,
     "layer": [
      {"data": {"name": "curves"}, "transform": [{"filter": "datum.p == 'C'"}], "mark": {"type": "line", "interpolate": "step-after", "strokeWidth": 1.2},
       "encoding": {"x": {"field": "t", "type": "quantitative", "scale": {"domain": [0, 159], "nice": false, "zero": false}, "axis": {"values": [0, 50, 100, 150], "tickCount": 20, "title": "Time (months)", "labelOverlap": false, "labelPadding": 1, "titlePadding": -4}},
        "y": {"field": "s", "type": "quantitative", "scale": {"domain": [-0.04, 1.04], "nice": false, "zero": false}, "axis": {"values": [0, 0.2, 0.4, 0.6, 0.8, 1], "tickCount": 20, "format": ".1f", "title": "Probability", "labelOverlap": false, "labelAngle": 270, "labelAlign": "center", "labelBaseline": "bottom", "labelPadding": 0, "titlePadding": 0}},
        "color": {"field": "g", "type": "nominal", "scale": {"domain": ["low", "high"], "range": ["black", "#e3262a"]}, "legend": {"title": "Expression", "encode": {"labels": {"update": {"fill": {"signal": "datum.label == 'high' ? '#e3262a' : 'black'"}}}}}}}},
      {"data": {"name": "censor"}, "transform": [{"filter": "datum.p == 'C'"}], "mark": {"type": "point", "shape": "M0,-1V1", "filled": false, "size": 36, "strokeWidth": 1, "opacity": 1},
       "encoding": {"x": {"field": "t", "type": "quantitative"}, "y": {"field": "s", "type": "quantitative"}, "color": {"condition": {"test": "datum.g == 'high'", "value": "#e3262a"}, "value": "black"}}},
      {"data": {"name": "ann"}, "transform": [{"filter": "datum.p == 'C'"}], "mark": {"type": "text", "align": "left", "baseline": "top", "fontSize": 16.5, "lineHeight": 18, "font": "Liberation Serif", "color": "black"},
       "encoding": {"x": {"datum": 22.7}, "y": {"datum": 1.012}, "text": {"field": "lines"}}}
     ]},
    {"width": 217, "height": 32, "view": {"stroke": null},
     "title": {"text": "Number at risk", "anchor": "start", "frame": "group", "dx": -36, "offset": -3.5, "fontSize": 17},
     "data": {"name": "risk"}, "transform": [{"filter": "datum.p == 'C'"}],
     "mark": {"type": "text", "fontSize": 17, "font": "Liberation Serif", "dx": 7},
     "encoding": {"x": {"field": "t", "type": "quantitative", "scale": {"domain": [0, 159], "nice": false, "zero": false}, "axis": {"title": "C", "labels": false, "ticks": false, "tickSize": 0, "titleFont": "Liberation Sans", "titleFontSize": 12, "titleAnchor": "start", "titleAlign": "left", "titleX": -36, "titlePadding": 2}},
      "y": {"field": "g", "type": "nominal", "scale": {"domain": ["low", "high"], "paddingInner": 0, "paddingOuter": 0}, "axis": {"title": null, "ticks": false, "tickSize": 0, "labelAlign": "left", "labelPadding": 36, "labelFontSize": 17, "labelColor": {"condition": {"test": "datum.value == 'high'", "value": "#e3262a"}, "value": "black"}}},
      "text": {"field": "n", "type": "quantitative"},
      "color": {"condition": {"test": "datum.g == 'high'", "value": "#e3262a"}, "value": "black"}}}
   ]}
 ], "spacing": 9, "resolve": {"scale": {"color": "independent", "x": "independent", "y": "independent"}, "legend": {"color": "independent"}}},
 {"hconcat": [
  {"spacing": -3, "resolve": {"scale": {"color": "independent", "x": "independent", "y": "independent"}, "legend": {"color": "independent"}},
   "vconcat": [
    {"title": {"text": "213485_s_at", "offset": 0.5}, "width": 217, "height": 174,
     "layer": [
      {"data": {"name": "curves"}, "transform": [{"filter": "datum.p == 'D'"}], "mark": {"type": "line", "interpolate": "step-after", "strokeWidth": 1.2},
       "encoding": {"x": {"field": "t", "type": "quantitative", "scale": {"domain": [0, 159], "nice": false, "zero": false}, "axis": {"values": [0, 50, 100, 150], "tickCount": 20, "title": "Time (months)", "labelOverlap": false, "labelPadding": -4, "titlePadding": -5}},
        "y": {"field": "s", "type": "quantitative", "scale": {"domain": [-0.04, 1.04], "nice": false, "zero": false}, "axis": {"values": [0, 0.2, 0.4, 0.6, 0.8, 1], "tickCount": 20, "format": ".1f", "title": "Probability", "labelOverlap": false, "labelAngle": 270, "labelAlign": "center", "labelBaseline": "bottom", "labelPadding": 0, "titlePadding": 0}},
        "color": {"field": "g", "type": "nominal", "scale": {"domain": ["low", "high"], "range": ["black", "#e3262a"]}, "legend": {"title": "Expression", "encode": {"labels": {"update": {"fill": {"signal": "datum.label == 'high' ? '#e3262a' : 'black'"}}}}}}}},
      {"data": {"name": "censor"}, "transform": [{"filter": "datum.p == 'D'"}], "mark": {"type": "point", "shape": "M0,-1V1", "filled": false, "size": 36, "strokeWidth": 1, "opacity": 1},
       "encoding": {"x": {"field": "t", "type": "quantitative"}, "y": {"field": "s", "type": "quantitative"}, "color": {"condition": {"test": "datum.g == 'high'", "value": "#e3262a"}, "value": "black"}}},
      {"data": {"name": "ann"}, "transform": [{"filter": "datum.p == 'D'"}], "mark": {"type": "text", "align": "left", "baseline": "top", "fontSize": 16.5, "lineHeight": 18, "font": "Liberation Serif", "color": "black"},
       "encoding": {"x": {"datum": 24}, "y": {"datum": 1.0}, "text": {"field": "lines"}}}
     ]},
    {"width": 217, "height": 38, "view": {"stroke": null},
     "title": {"text": "Number at risk", "anchor": "start", "frame": "group", "dx": -36, "offset": -3.5, "fontSize": 17},
     "data": {"name": "risk"}, "transform": [{"filter": "datum.p == 'D'"}],
     "mark": {"type": "text", "fontSize": 17, "font": "Liberation Serif", "dx": 7},
     "encoding": {"x": {"field": "t", "type": "quantitative", "scale": {"domain": [0, 159], "nice": false, "zero": false}, "axis": {"title": "D", "labels": false, "ticks": false, "tickSize": 0, "titleFont": "Liberation Sans", "titleFontSize": 12, "titleAnchor": "start", "titleAlign": "left", "titleX": -36, "titlePadding": 2}},
      "y": {"field": "g", "type": "nominal", "scale": {"domain": ["low", "high"], "paddingInner": 0, "paddingOuter": 0}, "axis": {"title": null, "ticks": false, "tickSize": 0, "labelAlign": "left", "labelPadding": 36, "labelFontSize": 17, "labelColor": {"condition": {"test": "datum.value == 'high'", "value": "#e3262a"}, "value": "black"}}},
      "text": {"field": "n", "type": "quantitative"},
      "color": {"condition": {"test": "datum.g == 'high'", "value": "#e3262a"}, "value": "black"}}}
   ]},
  {"spacing": -3, "resolve": {"scale": {"color": "independent", "x": "independent", "y": "independent"}, "legend": {"color": "independent"}},
   "vconcat": [
    {"title": {"text": "213485_s_at", "offset": 0.5}, "width": 217, "height": 174,
     "layer": [
      {"data": {"name": "curves"}, "transform": [{"filter": "datum.p == 'E'"}], "mark": {"type": "line", "interpolate": "step-after", "strokeWidth": 1.2},
       "encoding": {"x": {"field": "t", "type": "quantitative", "scale": {"domain": [0, 149], "nice": false, "zero": false}, "axis": {"values": [0, 20, 40, 60, 80, 100, 120, 140], "tickCount": 20, "title": "Time (months)", "labelOverlap": false, "labelPadding": -4, "titlePadding": -5}},
        "y": {"field": "s", "type": "quantitative", "scale": {"domain": [-0.04, 1.04], "nice": false, "zero": false}, "axis": {"values": [0, 0.2, 0.4, 0.6, 0.8, 1], "tickCount": 20, "format": ".1f", "title": "Probability", "labelOverlap": false, "labelAngle": 270, "labelAlign": "center", "labelBaseline": "bottom", "labelPadding": 0, "titlePadding": 0}},
        "color": {"field": "g", "type": "nominal", "scale": {"domain": ["low", "high"], "range": ["black", "#e3262a"]}, "legend": {"title": "Expression", "encode": {"labels": {"update": {"fill": {"signal": "datum.label == 'high' ? '#e3262a' : 'black'"}}}}}}}},
      {"data": {"name": "censor"}, "transform": [{"filter": "datum.p == 'E'"}], "mark": {"type": "point", "shape": "M0,-1V1", "filled": false, "size": 36, "strokeWidth": 1, "opacity": 1},
       "encoding": {"x": {"field": "t", "type": "quantitative"}, "y": {"field": "s", "type": "quantitative"}, "color": {"condition": {"test": "datum.g == 'high'", "value": "#e3262a"}, "value": "black"}}},
      {"data": {"name": "ann"}, "transform": [{"filter": "datum.p == 'E'"}], "mark": {"type": "text", "align": "left", "baseline": "top", "fontSize": 16.5, "lineHeight": 18, "font": "Liberation Serif", "color": "black"},
       "encoding": {"x": {"datum": 21}, "y": {"datum": 1.0}, "text": {"field": "lines"}}}
     ]},
    {"width": 217, "height": 38, "view": {"stroke": null},
     "title": {"text": "Number at risk", "anchor": "start", "frame": "group", "dx": -36, "offset": -3.5, "fontSize": 17},
     "data": {"name": "risk"}, "transform": [{"filter": "datum.p == 'E'"}],
     "mark": {"type": "text", "fontSize": 17, "font": "Liberation Serif", "dx": 6},
     "encoding": {"x": {"field": "t", "type": "quantitative", "scale": {"domain": [0, 149], "nice": false, "zero": false}, "axis": {"title": "E", "labels": false, "ticks": false, "tickSize": 0, "titleFont": "Liberation Sans", "titleFontSize": 12, "titleAnchor": "start", "titleAlign": "left", "titleX": -36, "titlePadding": 2}},
      "y": {"field": "g", "type": "nominal", "scale": {"domain": ["low", "high"], "paddingInner": 0, "paddingOuter": 0}, "axis": {"title": null, "ticks": false, "tickSize": 0, "labelAlign": "left", "labelPadding": 36, "labelFontSize": 17, "labelColor": {"condition": {"test": "datum.value == 'high'", "value": "#e3262a"}, "value": "black"}}},
      "text": {"field": "n", "type": "quantitative"},
      "color": {"condition": {"test": "datum.g == 'high'", "value": "#e3262a"}, "value": "black"}}}
   ]},
  {"spacing": -3, "resolve": {"scale": {"color": "independent", "x": "independent", "y": "independent"}, "legend": {"color": "independent"}},
   "vconcat": [
    {"title": {"text": "213485_s_at", "offset": 0.5}, "width": 217, "height": 174,
     "layer": [
      {"data": {"name": "curves"}, "transform": [{"filter": "datum.p == 'F'"}], "mark": {"type": "line", "interpolate": "step-after", "strokeWidth": 1.2},
       "encoding": {"x": {"field": "t", "type": "quantitative", "scale": {"domain": [0, 159], "nice": false, "zero": false}, "axis": {"values": [0, 50, 100, 150], "tickCount": 20, "title": "Time (months)", "labelOverlap": false, "labelPadding": -4, "titlePadding": -5}},
        "y": {"field": "s", "type": "quantitative", "scale": {"domain": [-0.04, 1.04], "nice": false, "zero": false}, "axis": {"values": [0, 0.2, 0.4, 0.6, 0.8, 1], "tickCount": 20, "format": ".1f", "title": "Probability", "labelOverlap": false, "labelAngle": 270, "labelAlign": "center", "labelBaseline": "bottom", "labelPadding": 0, "titlePadding": 0}},
        "color": {"field": "g", "type": "nominal", "scale": {"domain": ["low", "high"], "range": ["black", "#e3262a"]}, "legend": {"title": "Expression", "encode": {"labels": {"update": {"fill": {"signal": "datum.label == 'high' ? '#e3262a' : 'black'"}}}}}}}},
      {"data": {"name": "censor"}, "transform": [{"filter": "datum.p == 'F'"}], "mark": {"type": "point", "shape": "M0,-1V1", "filled": false, "size": 36, "strokeWidth": 1, "opacity": 1},
       "encoding": {"x": {"field": "t", "type": "quantitative"}, "y": {"field": "s", "type": "quantitative"}, "color": {"condition": {"test": "datum.g == 'high'", "value": "#e3262a"}, "value": "black"}}},
      {"data": {"name": "ann"}, "transform": [{"filter": "datum.p == 'F'"}], "mark": {"type": "text", "align": "left", "baseline": "top", "fontSize": 16.5, "lineHeight": 18, "font": "Liberation Serif", "color": "black"},
       "encoding": {"x": {"datum": 24}, "y": {"datum": 1.0}, "text": {"field": "lines"}}}
     ]},
    {"width": 217, "height": 38, "view": {"stroke": null},
     "title": {"text": "Number at risk", "anchor": "start", "frame": "group", "dx": -36, "offset": -3.5, "fontSize": 17},
     "data": {"name": "risk"}, "transform": [{"filter": "datum.p == 'F'"}],
     "mark": {"type": "text", "fontSize": 17, "font": "Liberation Serif", "dx": 7},
     "encoding": {"x": {"field": "t", "type": "quantitative", "scale": {"domain": [0, 159], "nice": false, "zero": false}, "axis": {"title": "F", "labels": false, "ticks": false, "tickSize": 0, "titleFont": "Liberation Sans", "titleFontSize": 12, "titleAnchor": "start", "titleAlign": "left", "titleX": -36, "titlePadding": 2}},
      "y": {"field": "g", "type": "nominal", "scale": {"domain": ["low", "high"], "paddingInner": 0, "paddingOuter": 0}, "axis": {"title": null, "ticks": false, "tickSize": 0, "labelAlign": "left", "labelPadding": 36, "labelFontSize": 17, "labelColor": {"condition": {"test": "datum.value == 'high'", "value": "#e3262a"}, "value": "black"}}},
      "text": {"field": "n", "type": "quantitative"},
      "color": {"condition": {"test": "datum.g == 'high'", "value": "#e3262a"}, "value": "black"}}}
   ]}
 ], "spacing": 9, "resolve": {"scale": {"color": "independent", "x": "independent", "y": "independent"}, "legend": {"color": "independent"}}}
]
}
